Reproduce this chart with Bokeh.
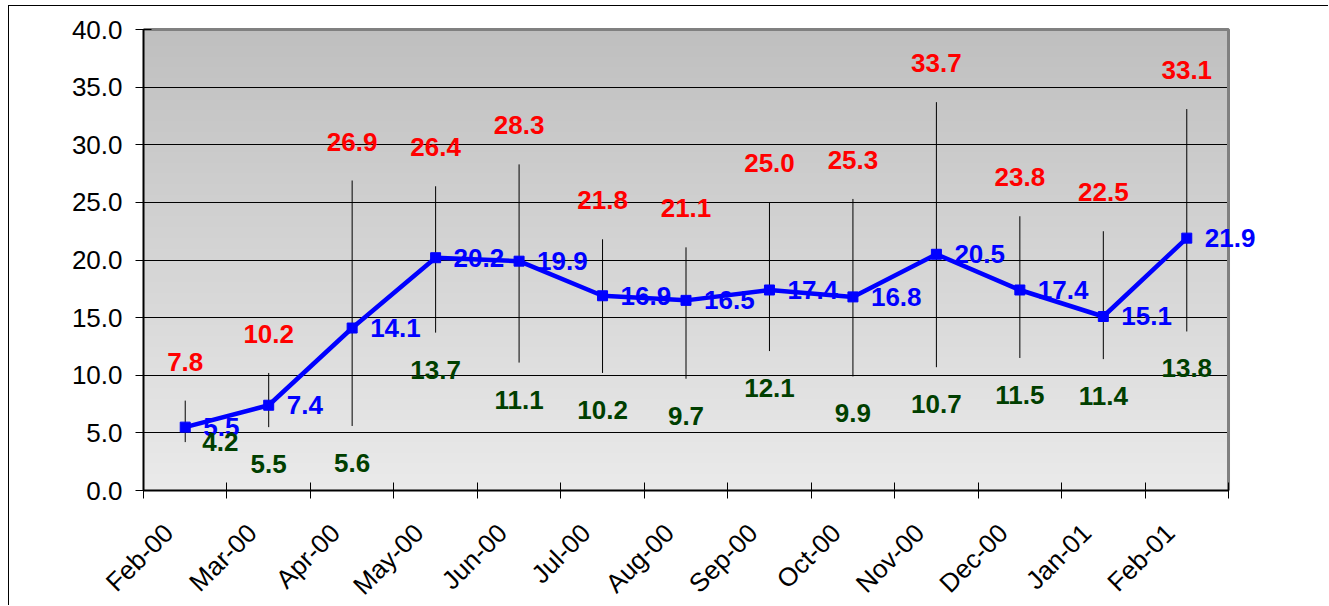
import numpy as np
from bokeh.plotting import figure
from bokeh.models import Range1d, FixedTicker, NumeralTickFormatter, ColumnDataSource
from bokeh.embed import file_html
from bokeh.resources import INLINE
from bokeh.core.properties import value

# ---- data ----
months = ["Feb-00", "Mar-00", "Apr-00", "May-00", "Jun-00", "Jul-00", "Aug-00",
          "Sep-00", "Oct-00", "Nov-00", "Dec-00", "Jan-01", "Feb-01"]
high = [7.8, 10.2, 26.9, 26.4, 28.3, 21.8, 21.1, 25.0, 25.3, 33.7, 23.8, 22.5, 33.1]
mean = [5.5, 7.4, 14.1, 20.2, 19.9, 16.9, 16.5, 17.4, 16.8, 20.5, 17.4, 15.1, 21.9]
low = [4.2, 5.5, 5.6, 13.7, 11.1, 10.2, 9.7, 12.1, 9.9, 10.7, 11.5, 11.4, 13.8]
y_ticks = [0, 5, 10, 15, 20, 25, 30, 35, 40]

n = len(months)
SLOT = 10  # width of one month slot in axis units
X_MAX = n * SLOT
Y_MAX = y_ticks[-1]
xs = [i * SLOT + SLOT / 2 for i in range(n)]
tick_x = [i * SLOT for i in range(n + 1)]
label_x = [t + 3 for t in tick_x[:-1]]

src = ColumnDataSource(dict(
    x=xs, high=high, mean=mean, low=low,
    high_t=[f"{v:.1f}" for v in high],
    mean_t=[f"{v:.1f}" for v in mean],
))
first = ColumnDataSource(dict(x=xs[:1], low=low[:1], low_t=[f"{low[0]:.1f}"]))
rest = ColumnDataSource(dict(x=xs[1:], low=low[1:], low_t=[f"{v:.1f}" for v in low[1:]]))

FONT = "Liberation Sans"
FS = "26px"

# The frame covers the whole canvas; the plot area (0..X_MAX, 0..Y_MAX) sits inside it
# and both axes are fixed at 0 so that no label is clipped.
p = figure(width=1320, height=600,
           x_range=Range1d(-16.055, 142.10), y_range=Range1d(-10.065, 42.0),
           output_backend="svg", toolbar_location=None,
           min_border_left=0, min_border_right=0, min_border_top=0, min_border_bottom=0)
p.margin = (5, 0, 0, 8)
p.styles = {"border-top": "1px solid black", "border-left": "1px solid black"}
p.border_fill_color = "white"
p.background_fill_color = "white"
p.outline_line_color = None

# gradient background of the plot area
rows = 300
t = np.linspace(0, 1, rows)
g = np.round(234 - (234 - 191) * t).astype(np.uint8)
img = np.empty((rows, 1), dtype=np.uint32)
view = img.view(dtype=np.uint8).reshape((rows, 1, 4))
view[:, 0, 0] = g
view[:, 0, 1] = g
view[:, 0, 2] = g
view[:, 0, 3] = 255
p.image_rgba(image=[img], x=0, y=0, dw=X_MAX, dh=Y_MAX, level="image")

# grid
p.xgrid.visible = False
grid_y = y_ticks[1:-1]
try:
    p.ygrid[0].cross_bounds = (0, X_MAX)
    p.ygrid.ticker = FixedTicker(ticks=grid_y)
    p.ygrid.grid_line_color = "black"
    p.ygrid.grid_line_width = 1
except AttributeError:
    p.ygrid.visible = False
    p.segment(x0=[0] * len(grid_y), y0=grid_y, x1=[X_MAX] * len(grid_y), y1=grid_y,
              line_color="black", line_width=1, level="underlay")

# grey plot-area border (top and right)
p.line([0, X_MAX, X_MAX], [Y_MAX, Y_MAX, 0], line_color="#808080", line_width=3)

# high-low lines
p.segment(x0="x", y0="low", x1="x", y1="high", source=src, line_color="black", line_width=1)

# mean line
p.line("x", "mean", source=src, line_color="#0000ff", line_width=4.5)
p.scatter("x", "mean", source=src, marker="square", size=10, fill_color="#0000ff", line_color="#0000ff")

common = dict(text_font=value(FONT), text_font_size=FS, text_font_style="bold",
              text_baseline="middle")
p.text("x", "high", text="high_t", source=src, text_color="#ff0000",
       text_align="center", y_offset=-39, **common)
p.text("x", "mean", text="mean_t", source=src, text_color="#0000ff",
       text_align="left", x_offset=18, **common)
p.text("x", "low", text="low_t", source=rest, text_color="#003f00",
       text_align="center", y_offset=37, **common)
p.text("x", "low", text="low_t", source=first, text_color="#003f00",
       text_align="left", x_offset=17, **common)

# x axis, fixed at y=0
xa = p.xaxis[0]
xa.fixed_location = 0
xa.bounds = (0, X_MAX)
xa.ticker = FixedTicker(ticks=label_x, minor_ticks=tick_x)
xa.major_label_overrides = {lx: m for lx, m in zip(label_x, months)}
xa.major_label_orientation = np.pi / 4
xa.major_tick_line_color = None
xa.major_tick_in = 0
xa.major_tick_out = 0
xa.minor_tick_in = 8
xa.minor_tick_out = 8
xa.minor_tick_line_color = "black"
xa.minor_tick_line_width = 1
xa.major_label_standoff = 30
xa.axis_line_color = "black"
xa.axis_line_width = 2
xa.major_label_text_font = FONT
xa.major_label_text_font_size = FS
xa.major_label_text_color = "black"

# y axis, fixed at x=0
ya = p.yaxis[0]
ya.fixed_location = 0
ya.bounds = (0, Y_MAX)
ya.ticker = FixedTicker(ticks=y_ticks)
ya.formatter = NumeralTickFormatter(format="0.0")
ya.major_tick_in = 8
ya.major_tick_out = 8
ya.major_tick_line_color = "black"
ya.minor_tick_line_color = None
ya.major_label_standoff = 13
ya.axis_line_color = "black"
ya.axis_line_width = 2
ya.major_label_text_font = FONT
ya.major_label_text_font_size = FS
ya.major_label_text_color = "black"

open("out.html", "w").write(file_html(p, INLINE))
